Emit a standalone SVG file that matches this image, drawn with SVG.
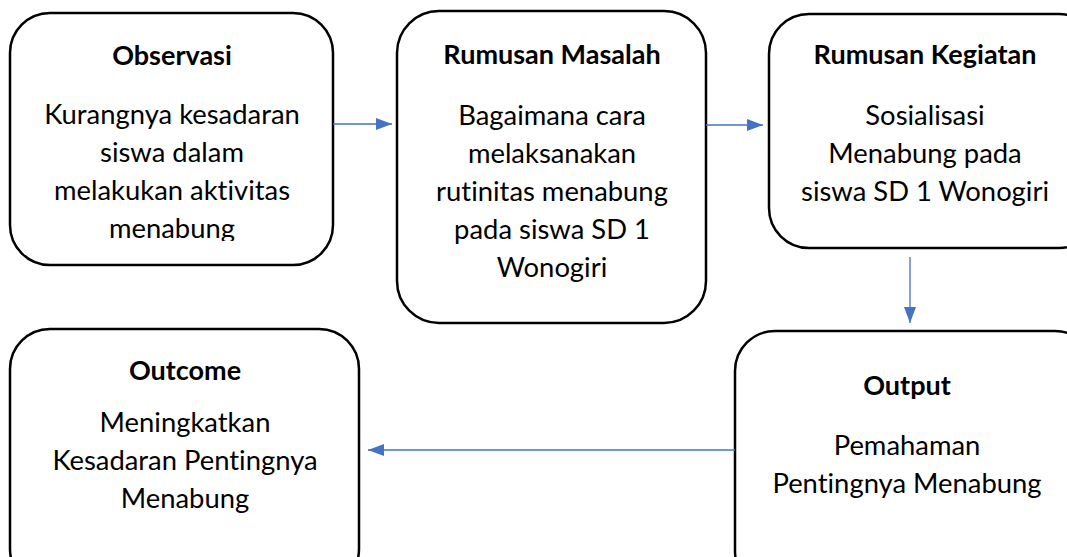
<svg xmlns="http://www.w3.org/2000/svg" width="1067" height="557" viewBox="0 0 1067 557">
<style>
.box{fill:#fff;stroke:#000;stroke-width:2.5}
.t{font-family:Lato,"Open Sans",sans-serif;font-size:27px;font-weight:bold;text-anchor:middle;fill:#000;font-variant-ligatures:none}
.b{font-family:Lato,"Open Sans",sans-serif;font-size:27.4px;text-anchor:middle;fill:#000;font-variant-ligatures:none}
.c{stroke:#4472C4;stroke-width:1.3;fill:none}
</style>
<defs>
<marker id="ah" viewBox="0 0 16 12" refX="16" refY="6" markerWidth="16" markerHeight="12" markerUnits="userSpaceOnUse" orient="auto">
<path d="M0,0L16,6L0,12Z" fill="#4472C4"/>
</marker>
<clipPath id="clip1"><rect x="0" y="0" width="400" height="241"/></clipPath>
</defs>
<rect width="1067" height="557" fill="#fff"/>
<g id="observasi">
<rect class="box" x="10" y="13" width="323" height="252" rx="40"/>
<text class="t" x="172" y="65">Observasi</text>
<text class="b" x="172" y="124">Kurangnya kesadaran</text>
<text class="b" x="172" y="162">siswa dalam</text>
<text class="b" x="172" y="200">melakukan aktivitas</text>
<text class="b" x="172" y="238" clip-path="url(#clip1)">menabung</text>
</g>
<g id="rumusan-masalah">
<rect class="box" x="397" y="11" width="309" height="312" rx="42"/>
<text class="t" x="552" y="64">Rumusan Masalah</text>
<text class="b" x="552" y="125">Bagaimana cara</text>
<text class="b" x="552" y="163">melaksanakan</text>
<text class="b" x="552" y="201">rutinitas menabung</text>
<text class="b" x="552" y="239">pada siswa SD 1</text>
<text class="b" x="552" y="277">Wonogiri</text>
</g>
<g id="rumusan-kegiatan">
<rect class="box" x="769" y="14" width="330" height="234" rx="40"/>
<text class="t" x="925" y="64">Rumusan Kegiatan</text>
<text class="b" x="925" y="125">Sosialisasi</text>
<text class="b" x="925" y="163">Menabung pada</text>
<text class="b" x="925" y="201">siswa SD 1 Wonogiri</text>
</g>
<g id="output">
<rect class="box" x="735" y="331" width="360" height="260" rx="40"/>
<text class="t" x="907" y="395">Output</text>
<text class="b" x="907" y="455">Pemahaman</text>
<text class="b" x="907" y="493">Pentingnya Menabung</text>
</g>
<g id="outcome">
<rect class="box" x="10" y="329" width="349" height="260" rx="40"/>
<text class="t" x="185" y="380">Outcome</text>
<text class="b" x="185" y="432">Meningkatkan</text>
<text class="b" x="185" y="470">Kesadaran Pentingnya</text>
<text class="b" x="185" y="508">Menabung</text>
</g>
<g id="connectors">
<line class="c" x1="333" y1="124" x2="392" y2="124" marker-end="url(#ah)"/>
<line class="c" x1="706" y1="125" x2="763" y2="125" marker-end="url(#ah)"/>
<line class="c" x1="910" y1="257" x2="910" y2="323" marker-end="url(#ah)"/>
<line class="c" x1="735" y1="450" x2="368" y2="450" marker-end="url(#ah)"/>
</g>
</svg>
